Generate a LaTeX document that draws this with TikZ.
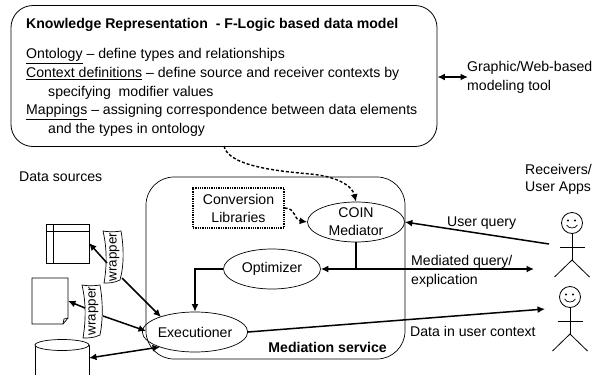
\documentclass[tikz,border=0pt]{standalone}
\usepackage{fontspec}
\setmainfont{Liberation Sans}
\usetikzlibrary{arrows.meta,shapes.geometric,calc}
\tikzset{
 txt/.style={font=\fontsize{14.1}{18}\selectfont,inner sep=0pt,anchor=west,align=left},
 ell/.style={draw,ellipse,inner sep=0pt,line width=0.7pt,font=\fontsize{14.1}{18}\selectfont,align=center},
 conn/.style={line width=1.5pt,-{Latex[length=7.5pt,width=7pt]}},
 both/.style={line width=1.5pt,{Latex[length=7.5pt,width=7pt]}-{Latex[length=7.5pt,width=7pt]}},
 dashconn/.style={line width=1.4pt,densely dashed,-{Latex[length=7.5pt,width=7pt]}},
 thin1/.style={line width=0.7pt},
 wrap/.style={font=\fontsize{13.4}{16}\selectfont,rotate=90,inner sep=0pt}
}
\begin{document}
\begin{tikzpicture}[x=1pt,y=-1pt]
\useasboundingbox (0,0) rectangle (595,375);
\fill[white] (0,0) rectangle (595,375);
% knowledge box
\node[draw,rounded corners=22pt,line width=0.8pt,inner sep=0pt,minimum width=426pt,minimum height=141pt] (kr) at (224,76) {};
\node[txt,font=\fontsize{14.1}{18}\selectfont\bfseries] (t1) at (26,25) {Knowledge Representation\ \ - F-Logic based data model};
\node[txt] (t2) at (26,56) {\underline{Ontology} – define types and relationships};
\node[txt] (t3) at (26,74) {\underline{Context definitions} – define source and receiver contexts by};
\node[txt] (t4) at (48,93) {specifying\ \ modifier values};
\node[txt] (t5) at (26,112) {\underline{Mappings} – assigning correspondence between data elements};
\node[txt] (t6) at (48,130) {and the types in ontology};
\node[txt] (tool) at (467,68) {Graphic/Web-based};
\node[txt] (tool2) at (467,87) {modeling tool};
\coordinate (toolp) at (468,77);
\draw[both] (kr.east |- toolp) -- (toolp);
\node[txt] (ds) at (19,177) {Data sources};
\node[txt] (rc) at (525,169) {Receivers/};
\node[txt] (ua) at (525,188) {User Apps};
% mediation box
\node[draw,rounded corners=28pt,line width=0.7pt,inner sep=0pt,minimum width=259pt,minimum height=182pt] (ms) at (275.5,268) {};
\node[font=\fontsize{14.1}{18}\selectfont\bfseries,inner sep=0pt,anchor=east] (mst) at (387,347) {Mediation service};
% nodes
\node[draw,densely dotted,line width=1.3pt,minimum width=91pt,minimum height=40pt,inner sep=0pt,font=\fontsize{14.1}{18}\selectfont,align=center] (cl) at (238.5,208) {Conversion\\Libraries};
\node[ell,minimum width=97pt,minimum height=40pt] (coin) at (356,222) {COIN\\Mediator};
\node[ell,minimum width=97pt,minimum height=40pt] (opt) at (272,269) {Optimizer};
\node[ell,minimum width=97pt,minimum height=40pt] (ex) at (195,332) {Executioner};
% connectors
\coordinate (kb) at (224,146);
\draw[dashconn] (kb) .. controls (228,168) and (290,172) .. (310,174) .. controls (335,176) and (352,185) .. (coin.north);
\draw[dashconn] (cl.east) .. controls (296,208) and (294,220) .. (coin.west);
\coordinate (midq) at (534,269);
\coordinate (userq) at (549,244);
\coordinate (junc) at (356,269);
\coordinate (optdown) at (195,269);
\draw[conn] (userq) -- (coin.east);
\draw[line width=1.3pt] (coin.south) -- (junc);
\draw[both] (opt.east) -- (midq);
\draw[conn] (opt.west) -- (optdown) -- (ex.north);
\coordinate (datap) at (545,309);
\draw[conn] (ex.east) -- (datap);
% data sources
\node[draw,thin1,minimum width=43pt,minimum height=39pt,inner sep=0pt] (tbl) at (67.5,243.5) {};
\draw[thin1] ($(tbl.north west)+(0,8)$) -- ($(tbl.north east)+(0,8)$);
\draw[thin1] ($(tbl.north west)+(8,0)$) -- ($(tbl.south west)+(8,0)$);
\draw[thin1] (32,278) -- (68,278) -- (68,318) -- (63,324) -- (32,324) -- cycle;
\draw[thin1] (68,318) -- (64,319) -- (63,324);
\coordinate (docp) at (68,301);
\coordinate (cylp) at (89,358);
\draw[thin1] (35,345) -- (35,375) (89,345) -- (89,375);
\draw[thin1,fill=white] (62,345) ellipse (27pt and 5.5pt);
% wrappers
\draw[thin1,fill=white] (103,231) .. controls (108,232) and (116,232) .. (121,231) .. controls (124,248) and (124,266) .. (120,280) .. controls (114,283) and (109,283) .. (104,283) .. controls (107,266) and (107,248) .. (103,231) -- cycle;
\node[wrap] (w1) at (114.5,257) {wrapper};
\draw[thin1,fill=white] (82,285) .. controls (87,286) and (95,286) .. (100,285) .. controls (103,302) and (103,320) .. (100,335) .. controls (94,338) and (88,338) .. (83,338) .. controls (86,320) and (86,302) .. (82,285) -- cycle;
\node[wrap] (w2) at (93.5,311) {wrapper};
\coordinate (w1a) at (107,263);
\coordinate (w1t) at (89,243);
\coordinate (w1b) at (122,278);
\coordinate (w1e) at (161,317);
\coordinate (w2a) at (85,308);
\coordinate (w2b) at (103,316);
\coordinate (w2e) at (146,331);
\coordinate (cyle) at (160,347);
\draw[conn] (w1a) -- (w1t);
\draw[conn] (w1b) -- (w1e);
\draw[conn] (w2a) -- (docp);
\draw[conn] (w2b) -- (w2e);
\draw[both] (cylp) -- (cyle);
% stick figures
\foreach \n/\cx/\cy in {a/572/223,b/570/297}{
 \draw[line width=0.8pt] (\cx,\cy) circle (10.5pt);
 \fill (\cx-4,\cy-2.5) circle (1.1pt) (\cx+3,\cy-2.5) circle (1.1pt);
 \draw[line width=0.7pt] (\cx-5.5,\cy+2) .. controls (\cx-3,\cy+6) and (\cx+3,\cy+6) .. (\cx+5.5,\cy+2);
 \draw[line width=0.8pt] (\cx,\cy+10.5) -- (\cx,\cy+37);
 \draw[line width=0.8pt] (\cx-12.5,\cy+24) -- (\cx+12.5,\cy+24);
 \draw[line width=0.8pt] (\cx-17.5,\cy+54) -- (\cx,\cy+37) -- (\cx+17.5,\cy+54);
}
\node[txt] (uq) at (447,223) {User query};
\node[txt] (mq) at (411,262) {Mediated query/};
\node[txt] (ex2) at (411,281) {explication};
\node[txt] (dc) at (410,331) {Data in user context};
\end{tikzpicture}
\end{document}
